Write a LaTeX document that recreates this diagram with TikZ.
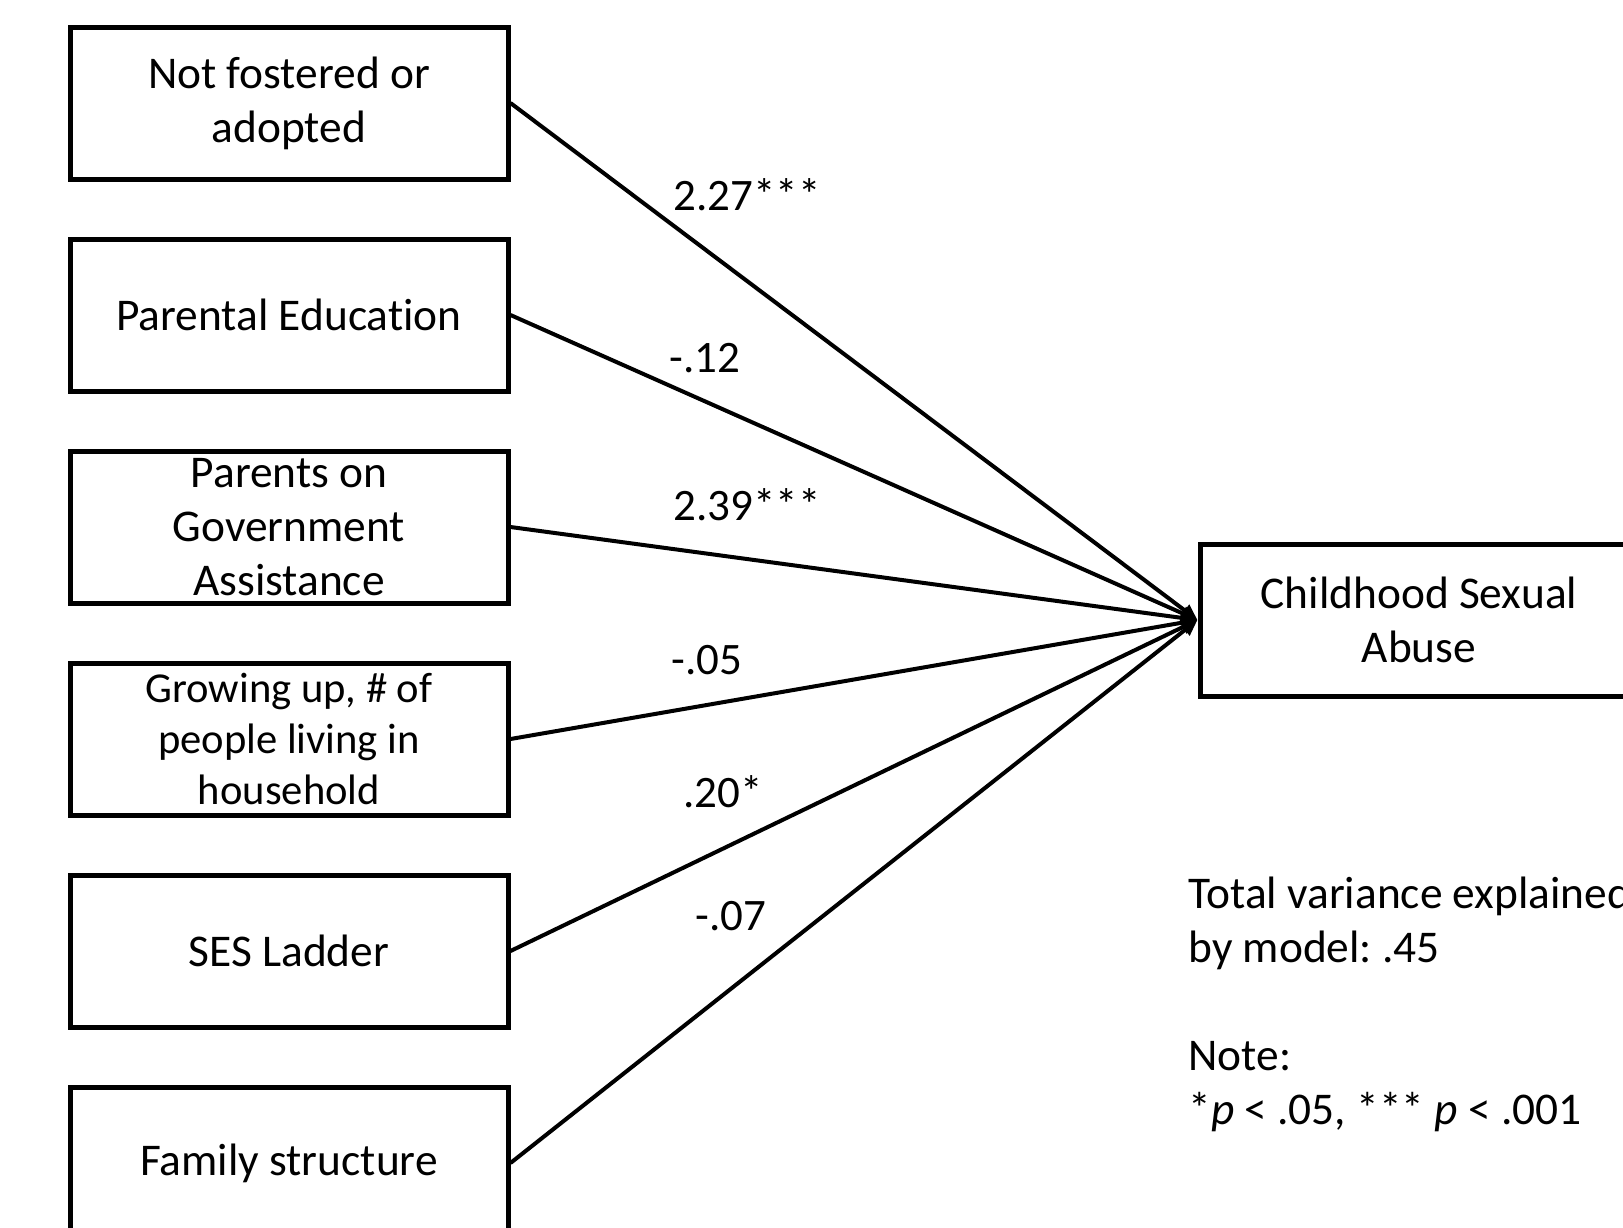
\documentclass[tikz,border=0pt]{standalone}
\usepackage{fontspec}
\setmainfont{Carlito}[Ligatures=NoCommon]
\frenchspacing
\usetikzlibrary{arrows.meta,positioning}
\tikzset{
  varbox/.style={draw,line width=2.5pt,minimum width=219pt,minimum height=76pt,align=center,font=\fontsize{22.7}{27}\selectfont,inner sep=0pt},
  arrow/.style={-{Triangle[length=8pt,width=7pt]},line width=2pt},
  coef/.style={anchor=west,font=\fontsize{22.5}{27}\selectfont,inner sep=0pt}
}

\begin{document}
\begin{tikzpicture}[x=0.5pt,y=-0.5pt,node distance=27.5pt]
  \useasboundingbox (0,0) rectangle (1623,1227);
  \node[varbox] (nfa) at (289,103) {Not fostered or\\adopted};
  \node[varbox,below=of nfa] (pe) {Parental Education};
  \node[varbox,below=of pe] (pga) {Parents on\\Government\\Assistance};
  \node[varbox,below=of pga,font=\fontsize{21.3}{25.5}\selectfont] (hh) {Growing up, \# of\\people living in\\household};
  \node[varbox,below=of hh] (ses) {SES Ladder};
  \node[varbox,below=of ses] (fs) {Family structure};
  \node[varbox] (csa) at (1419,620) {Childhood Sexual\\Abuse};

  \draw[arrow] (nfa.east) -- (csa.west);
  \draw[arrow] (pe.east) -- (csa.west);
  \draw[arrow] (pga.east) -- (csa.west);
  \draw[arrow] (hh.east) -- (csa.west);
  \draw[arrow] (ses.east) -- (csa.west);
  \draw[arrow] (fs.east) -- (csa.west);

  % Path coefficients
  \node[coef] (c1) at (673,195) {2.27***};
  \node[coef] (c2) at (669,358) {-.12};
  \node[coef] (c3) at (673,505) {2.39***};
  \node[coef] (c4) at (671,660) {-.05};
  \node[coef] (c5) at (683,792) {.20*};
  \node[coef] (c6) at (695,916) {-.07};

  % Model fit and note
  \node[anchor=base west,align=left,inner sep=0pt,font=\fontsize{22.7}{27}\selectfont] (fit) at (1188,1124)
    {Total variance explained\\by model: .45\\[27pt]Note:\\*\textit{p} < .05, *** \textit{p} < .001};
\end{tikzpicture}
\end{document}
